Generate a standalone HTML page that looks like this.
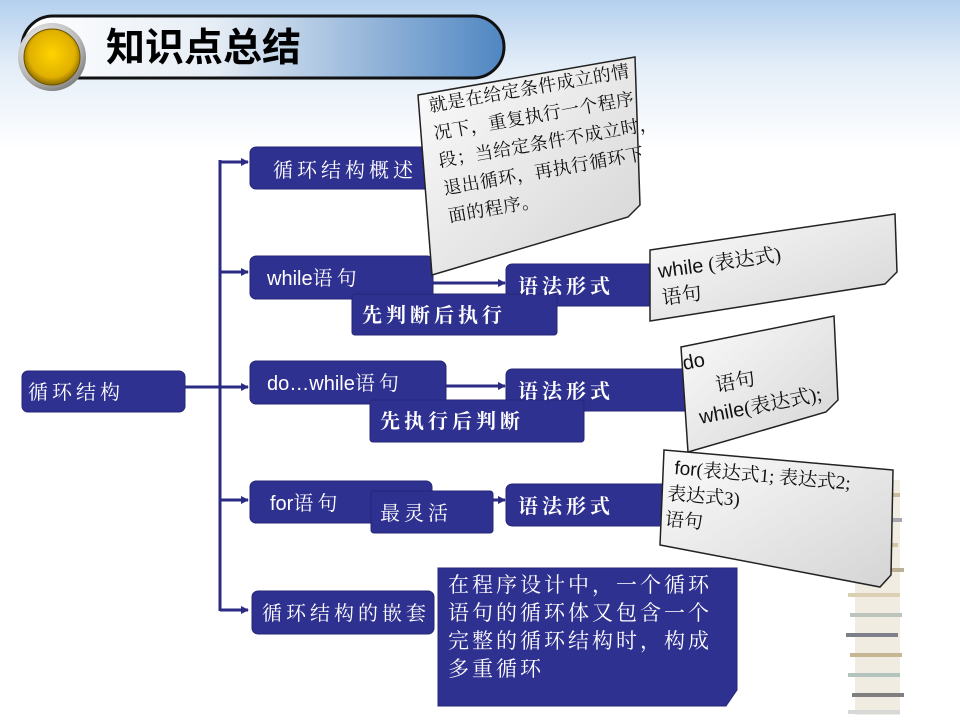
<!DOCTYPE html>
<html><head><meta charset="utf-8"><style>
html,body{margin:0;padding:0;width:960px;height:720px;overflow:hidden;background:#fff}
svg text{font-family:"Liberation Serif","Noto Serif CJK SC",serif}
.w{fill:#fff;font-size:20px;letter-spacing:4px}
.s{font-family:"Liberation Sans","Noto Sans CJK SC",sans-serif !important;letter-spacing:0}
.k{fill:#111;font-size:18px}
</style></head><body>
<svg width="960" height="720" viewBox="0 0 960 720" xmlns="http://www.w3.org/2000/svg">
<defs>
<linearGradient id="sky" x1="0" y1="0" x2="0" y2="1">
<stop offset="0" stop-color="#b4d0ee"/><stop offset="0.45" stop-color="#e4eef8"/><stop offset="1" stop-color="#fff"/></linearGradient>
<linearGradient id="bar" x1="0" y1="0" x2="1" y2="0">
<stop offset="0" stop-color="#fff"/><stop offset="0.4" stop-color="#e6edf5"/><stop offset="1" stop-color="#4f86c2"/></linearGradient>
<radialGradient id="gold" cx="0.5" cy="0.45" r="0.55">
<stop offset="0" stop-color="#ffd400"/><stop offset="0.75" stop-color="#e0b000"/><stop offset="1" stop-color="#8a6a00"/></radialGradient>
<radialGradient id="silver" cx="0.4" cy="0.35" r="0.7">
<stop offset="0" stop-color="#fff"/><stop offset="0.7" stop-color="#bbb"/><stop offset="1" stop-color="#777"/></radialGradient>
<linearGradient id="note" x1="0" y1="0" x2="1" y2="1">
<stop offset="0" stop-color="#fcfcfc"/><stop offset="1" stop-color="#d4d4d4"/></linearGradient>
<marker id="ar" markerWidth="8" markerHeight="8" refX="7" refY="4" orient="auto" markerUnits="userSpaceOnUse">
<path d="M0,0 L8,4 L0,8 z" fill="#2b2b83"/></marker>
</defs>
<rect x="0" y="0" width="960" height="150" fill="url(#sky)"/>
<rect x="0" y="150" width="960" height="570" fill="#fff"/>
<rect x="22" y="16" width="482" height="62" rx="31" fill="url(#bar)" stroke="#111" stroke-width="3"/>
<circle cx="52" cy="57" r="34" fill="url(#silver)"/>
<circle cx="52" cy="57" r="28" fill="url(#gold)" stroke="#6b5200" stroke-width="1"/>
<text x="106" y="61" class="s" style="font-size:39px;font-weight:bold;fill:#000">知识点总结</text>
<g opacity="0.75">
<rect x="855" y="480" width="45" height="235" fill="#ece6d8"/>
<g stroke-width="4">
<line x1="848" y1="495" x2="900" y2="495" stroke="#b9a680"/>
<line x1="850" y1="520" x2="902" y2="520" stroke="#8a8a99"/>
<line x1="846" y1="545" x2="898" y2="545" stroke="#c7b48a"/>
<line x1="852" y1="570" x2="904" y2="570" stroke="#a59572"/>
<line x1="848" y1="595" x2="900" y2="595" stroke="#d0c19b"/>
<line x1="850" y1="615" x2="902" y2="615" stroke="#a8b0a8"/>
<line x1="846" y1="635" x2="898" y2="635" stroke="#555566"/>
<line x1="850" y1="655" x2="902" y2="655" stroke="#b59e70"/>
<line x1="848" y1="675" x2="900" y2="675" stroke="#9ab0a8"/>
<line x1="852" y1="695" x2="904" y2="695" stroke="#555"/>
<line x1="848" y1="712" x2="900" y2="712" stroke="#ccc"/>
</g></g>
<g stroke="#2b2b83" stroke-width="3" fill="none">
<line x1="185" y1="387" x2="220" y2="387"/>
<line x1="220" y1="160" x2="220" y2="611"/>
<line x1="220" y1="162" x2="248" y2="162" marker-end="url(#ar)"/>
<line x1="220" y1="272" x2="248" y2="272" marker-end="url(#ar)"/>
<line x1="220" y1="387" x2="248" y2="387" marker-end="url(#ar)"/>
<line x1="220" y1="500" x2="248" y2="500" marker-end="url(#ar)"/>
<line x1="220" y1="610" x2="248" y2="610" marker-end="url(#ar)"/>
<line x1="433" y1="283" x2="505" y2="283" marker-end="url(#ar)"/>
<line x1="446" y1="386" x2="505" y2="386" marker-end="url(#ar)"/>
<line x1="493" y1="500" x2="505" y2="500" marker-end="url(#ar)"/>
</g>
<g fill="#2f3191" stroke="#252577" stroke-width="1">
<rect x="22" y="371" width="163" height="41" rx="6"/>
<rect x="250" y="147" width="182" height="42" rx="6"/>
<rect x="250" y="256" width="183" height="43" rx="6"/>
<rect x="250" y="361" width="196" height="43" rx="6"/>
<rect x="250" y="481" width="182" height="42" rx="6"/>
<rect x="252" y="591" width="182" height="43" rx="6"/>
<rect x="506" y="264" width="150" height="42" rx="6"/>
<rect x="506" y="369" width="185" height="42" rx="6"/>
<rect x="506" y="484" width="165" height="42" rx="6"/>
<rect x="352" y="294" width="205" height="41" rx="3"/>
<rect x="370" y="400" width="214" height="42" rx="3"/>
<rect x="371" y="491" width="122" height="42" rx="3"/>
<path d="M438,568 H737 V690 L726,706 H438 Z"/>
</g>
<text x="28" y="399" class="w">循环结构</text>
<text x="273" y="177" class="w">循环结构概述</text>
<text x="267" y="285" class="w"><tspan class="s">while</tspan>语句</text>
<text x="267" y="390" class="w"><tspan class="s">do…while</tspan>语句</text>
<text x="270" y="510" class="w"><tspan class="s">for</tspan>语句</text>
<text x="262" y="620" class="w">循环结构的嵌套</text>
<g style="font-weight:bold"><text x="518" y="293" class="w">语法形式</text>
<text x="518" y="398" class="w">语法形式</text>
<text x="518" y="513" class="w">语法形式</text>
<text x="362" y="322" class="w">先判断后执行</text>
<text x="380" y="428" class="w">先执行后判断</text></g>
<text x="380" y="520" class="w">最灵活</text>
<g class="w" style="font-size:21px;letter-spacing:3px">
<text x="448" y="592">在程序设计中，一个循环</text>
<text x="448" y="620">语句的循环体又包含一个</text>
<text x="448" y="648">完整的循环结构时，构成</text>
<text x="448" y="676">多重循环</text>
</g>
<g stroke="#222" stroke-width="1.5" fill="url(#note)">
<polygon points="418,95 635,57 640,205 628,217 432,275"/>
<polygon points="650,250 895,214 897,272 885,284 650,321"/>
<polygon points="681,347 834,316 838,400 826,412 688,452"/>
<polygon points="664,450 893,470 891,575 880,587 660,545"/>
</g>
<g class="k">
<g transform="rotate(-10 430 112)" style="font-size:18px;letter-spacing:0.5px">
<text x="430" y="112">就是在给定条件成立的情</text>
<text x="430" y="140">况下，重复执行一个程序</text>
<text x="430" y="168">段；当给定条件不成立时，</text>
<text x="430" y="196">退出循环，再执行循环下</text>
<text x="430" y="224">面的程序。</text>
</g>
<g transform="rotate(-8 659 278)" style="font-size:20px"><text x="659" y="278"><tspan class="s">while</tspan> (表达式)</text>
<text x="659" y="305">语句</text></g>
<g transform="rotate(-11 684 370)" style="font-size:20px"><text x="684" y="370" class="s">do</text>
<text x="712" y="398">语句</text>
<text x="690" y="426"><tspan class="s">while</tspan>(表达式);</text></g>
<g transform="rotate(5 674 474)" style="font-size:19px"><text x="674" y="474"><tspan class="s">for</tspan>(表达式1; 表达式2;</text>
<text x="669" y="500">表达式3)</text>
<text x="669" y="526">语句</text></g>
</g>
</svg>
</body></html>
